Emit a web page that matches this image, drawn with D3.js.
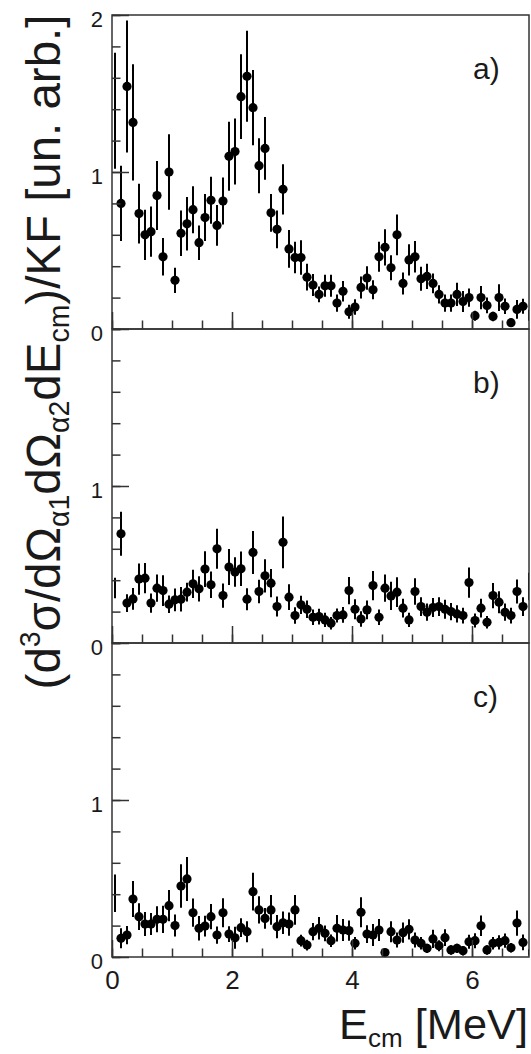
<!DOCTYPE html>
<html>
<head>
<meta charset="utf-8">
<script src="https://cdn.jsdelivr.net/npm/d3@7"></script>
<style>
  body { margin: 0; background: #fff; }
  svg { display: block; }
</style>
</head>
<body>
<div id="chart"></div>
<script>
// Energy bins (MeV), bin centres
const energy = [
  0.05, 0.15, 0.25, 0.35, 0.45, 0.55, 0.65, 0.75, 0.85, 0.95,
  1.05, 1.15, 1.25, 1.35, 1.45, 1.55, 1.65, 1.75, 1.85, 1.95,
  2.05, 2.15, 2.25, 2.35, 2.45, 2.55, 2.65, 2.75, 2.85, 2.95,
  3.05, 3.15, 3.25, 3.35, 3.45, 3.55, 3.65, 3.75, 3.85, 3.95,
  4.05, 4.15, 4.25, 4.35, 4.45, 4.55, 4.65, 4.75, 4.85, 4.95,
  5.05, 5.15, 5.25, 5.35, 5.45, 5.55, 5.65, 5.75, 5.85, 5.95,
  6.05, 6.15, 6.25, 6.35, 6.45, 6.55, 6.65, 6.75, 6.85, 6.95
];

// panel a)
const aVal = [
  1.39, 0.80, 1.545, 1.316, 0.735, 0.60, 0.62, 0.85, 0.46, 1.00,
  0.31, 0.61, 0.67, 0.76, 0.55, 0.71, 0.82, 0.66, 0.815, 1.10,
  1.13, 1.48, 1.61, 1.41, 1.04, 1.15, 0.74, 0.635, 0.89, 0.51,
  0.455, 0.455, 0.33, 0.28, 0.22, 0.275, 0.275, 0.165, 0.24, 0.11,
  0.14, 0.265, 0.325, 0.25, 0.46, 0.52, 0.39, 0.60, 0.29, 0.44,
  0.46, 0.32, 0.335, 0.29, 0.22, 0.165, 0.165, 0.22, 0.175, 0.20,
  0.085, 0.20, 0.15, 0.08, 0.20, 0.145, 0.04, 0.125, 0.145, 0.088
];
const aErr = [
  0.37, 0.24, 0.42, 0.37, 0.19, 0.16, 0.16, 0.22, 0.12, 0.24,
  0.08, 0.145, 0.17, 0.15, 0.11, 0.15, 0.15, 0.13, 0.15, 0.22,
  0.21, 0.27, 0.29, 0.24, 0.175, 0.2, 0.12, 0.12, 0.16, 0.12,
  0.10, 0.11, 0.085, 0.07, 0.05, 0.07, 0.07, 0.055, 0.065, 0.045,
  0.05, 0.07, 0.075, 0.06, 0.095, 0.115, 0.08, 0.13, 0.07, 0.10,
  0.10, 0.077, 0.08, 0.063, 0.058, 0.055, 0.055, 0.074, 0.067, 0.058,
  0.032, 0.074, 0.05, 0.03, 0.085, 0.05, 0.025, 0.06, 0.048, 0.035
];

// panel b)
const bVal = [
  0.35, 0.696, 0.254, 0.281, 0.407, 0.413, 0.254, 0.349, 0.334, 0.247,
  0.275, 0.279, 0.324, 0.377, 0.345, 0.471, 0.371, 0.60, 0.302, 0.484,
  0.452, 0.473, 0.279, 0.577, 0.328, 0.428, 0.381, 0.232, 0.641, 0.292,
  0.175, 0.243, 0.215, 0.164, 0.168, 0.147, 0.126, 0.175, 0.179, 0.334,
  0.215, 0.153, 0.211, 0.366, 0.164, 0.349, 0.30, 0.324, 0.222, 0.147,
  0.328, 0.232, 0.196, 0.226, 0.232, 0.215, 0.20, 0.185, 0.175, 0.385,
  0.143, 0.222, 0.132, 0.302, 0.26, 0.196, 0.175, 0.328, 0.232, 0.36
];
const bErr = [
  0.065, 0.14, 0.057, 0.07, 0.1, 0.096, 0.062, 0.087, 0.098, 0.056,
  0.072, 0.078, 0.06, 0.09, 0.08, 0.114, 0.085, 0.127, 0.077, 0.114,
  0.094, 0.11, 0.07, 0.137, 0.075, 0.106, 0.09, 0.064, 0.165, 0.082,
  0.052, 0.058, 0.055, 0.05, 0.05, 0.045, 0.04, 0.045, 0.05, 0.087,
  0.064, 0.05, 0.06, 0.093, 0.05, 0.087, 0.09, 0.094, 0.06, 0.045,
  0.085, 0.06, 0.055, 0.06, 0.06, 0.06, 0.055, 0.055, 0.05, 0.096,
  0.045, 0.06, 0.04, 0.08, 0.07, 0.055, 0.05, 0.077, 0.06, 0.088
];

// panel c)
const cVal = [
  0.406, 0.119, 0.14, 0.369, 0.257, 0.21, 0.21, 0.24, 0.24, 0.327,
  0.20, 0.452, 0.497, 0.282, 0.183, 0.197, 0.257, 0.14, 0.282, 0.146,
  0.122, 0.187, 0.161, 0.416, 0.30, 0.246, 0.30, 0.193, 0.218, 0.21,
  0.30, 0.104, 0.076, 0.161, 0.183, 0.151, 0.104, 0.183, 0.172, 0.168,
  0.087, 0.285, 0.146, 0.14, 0.172, 0.028, 0.161, 0.108, 0.155, 0.176,
  0.108, 0.087, 0.055, 0.115, 0.072, 0.123, 0.045, 0.055, 0.04, 0.097,
  0.104, 0.199, 0.045, 0.087, 0.093, 0.104, 0.059, 0.216, 0.093, 0.03
];
const cErr = [
  0.12, 0.064, 0.058, 0.115, 0.085, 0.076, 0.07, 0.083, 0.087, 0.1,
  0.07, 0.138, 0.14, 0.09, 0.078, 0.066, 0.08, 0.055, 0.092, 0.05,
  0.07, 0.06, 0.067, 0.12, 0.087, 0.066, 0.095, 0.074, 0.072, 0.074,
  0.095, 0.037, 0.034, 0.055, 0.072, 0.05, 0.04, 0.085, 0.07, 0.064,
  0.04, 0.095, 0.057, 0.07, 0.07, 0.025, 0.067, 0.048, 0.064, 0.064,
  0.048, 0.04, 0.03, 0.058, 0.035, 0.053, 0.03, 0.03, 0.03, 0.045,
  0.048, 0.066, 0.03, 0.04, 0.045, 0.045, 0.03, 0.08, 0.05, 0.02
];

const panelLabels = ['a)', 'b)', 'c)'];
const yDomain = [0, 2];
const xDomain = [0, 6.95];

// Layout
let svgwidth = 531;
let svgheight = 1054;
let frameLeft = 112;
let frameRight = 529;
let frameTop = 15;
let panelH = 314;
let markerR = 4.6;
let ink = '#1a1a1a';
let font = "'Liberation Sans', Arial, sans-serif";

let svg = d3.select('#chart')
  .append('svg')
  .attr('width', svgwidth)
  .attr('height', svgheight)
  .style('font-family', font);

let x = d3.scaleLinear().domain(xDomain).range([frameLeft, frameRight]);

let panels = [
  { val: aVal, err: aErr, label: panelLabels[0], yLabels: [0, 1, 2] },
  { val: bVal, err: bErr, label: panelLabels[1], yLabels: [0, 1] },
  { val: cVal, err: cErr, label: panelLabels[2], yLabels: [0, 1] }
];

panels.forEach(function (p, i) {
  let y0 = frameTop + i * panelH;
  let y = d3.scaleLinear().domain(yDomain).range([y0 + panelH, y0]);
  let last = i === panels.length - 1;

  let g = svg.append('g').attr('class', 'panel');

  // clip for error bars
  svg.append('clipPath')
    .attr('id', 'clip' + i)
    .append('rect')
    .attr('x', frameLeft)
    .attr('y', y0)
    .attr('width', frameRight - frameLeft)
    .attr('height', panelH);

  let rows = energy.map((e, k) => ({ e: e, v: p.val[k], s: p.err[k] }));

  // error bars
  g.append('g')
    .attr('clip-path', `url(#clip${i})`)
    .selectAll('line')
    .data(rows)
    .join('line')
    .attr('x1', (d) => x(d.e))
    .attr('x2', (d) => x(d.e))
    .attr('y1', (d) => y(d.v - d.s))
    .attr('y2', (d) => y(d.v + d.s))
    .attr('stroke', '#000')
    .attr('stroke-width', 2);

  // markers (skipped when they would poke out of the frame)
  g.append('g')
    .selectAll('circle')
    .data(rows.filter((d) => x(d.e) - frameLeft >= markerR && frameRight - x(d.e) >= markerR))
    .join('circle')
    .attr('cx', (d) => x(d.e))
    .attr('cy', (d) => y(d.v))
    .attr('r', markerR)
    .attr('fill', '#000');

  // y minor ticks
  let yMinor = g.append('g')
    .attr('transform', `translate(${frameLeft},0)`)
    .call(d3.axisLeft(y).tickValues(y.ticks(10)).tickSize(-8.5).tickFormat(''));
  yMinor.select('.domain').remove();

  // y major ticks + labels
  let yMajor = g.append('g')
    .attr('transform', `translate(${frameLeft},0)`)
    .call(d3.axisLeft(y).tickValues(p.yLabels).tickSize(-17).tickPadding(9).tickFormat(d3.format('d')));
  yMajor.select('.domain').remove();
  yMajor.selectAll('text')
    .attr('dy', '0.5em')
    .style('font-size', '22px')
    .style('font-family', font)
    .attr('fill', ink);

  // x minor ticks
  let xMinor = g.append('g')
    .attr('transform', `translate(0,${y0 + panelH})`)
    .call(d3.axisBottom(x).tickValues(x.ticks(14)).tickSize(-8.5).tickFormat(''));
  xMinor.select('.domain').remove();

  // x major ticks (labels only on the bottom panel)
  let xMajor = g.append('g')
    .attr('transform', `translate(0,${y0 + panelH})`)
    .call(d3.axisBottom(x).ticks(4).tickSize(-17).tickPadding(14)
      .tickFormat(last ? d3.format('d') : ''));
  xMajor.select('.domain').remove();
  xMajor.selectAll('text')
    .style('font-size', '26px')
    .style('font-family', font)
    .attr('fill', ink);

  g.selectAll('.tick line').attr('stroke', '#333').attr('stroke-width', 1.5);

  // frame
  g.append('rect')
    .attr('x', frameLeft)
    .attr('y', y0)
    .attr('width', frameRight - frameLeft)
    .attr('height', panelH)
    .attr('fill', 'none')
    .attr('stroke', '#333')
    .attr('stroke-width', 1.5);

  // panel label
  g.append('text')
    .text(p.label)
    .attr('x', 473)
    .attr('y', y0 + 64)
    .attr('font-size', 30)
    .attr('fill', ink);
});

// rich text helper: parts are [string, shift] with shift +1 sup, -1 sub
function richText(sel, parts, fs) {
  let cur = 0;
  parts.forEach(function (pt) {
    let shift = pt[1] === 1 ? -0.42 * fs : pt[1] === -1 ? 0.18 * fs : 0;
    sel.append('tspan')
      .text(pt[0])
      .attr('dy', shift - cur)
      .attr('font-size', pt[1] === 0 ? fs : fs * 0.6);
    cur = shift;
  });
}

// Y axis title, squeezed to fit the height like the original
let yTitleG = svg.append('g').attr('transform', 'translate(60,352) rotate(-90)');
let yTitle = yTitleG.append('text')
  .attr('text-anchor', 'middle')
  .attr('fill', ink);
richText(yTitle, [
  ['(d', 0], ['3', 1], ['σ/dΩ', 0], ['α1', -1], ['dΩ', 0], ['α2', -1],
  ['dE', 0], ['cm', -1], [')/KF [un. arb.]', 0]
], 48);
let yLen = yTitle.node().getComputedTextLength();
yTitle.attr('transform', `scale(${675 / yLen},1)`);

// X axis title
let xTitleG = svg.append('g').attr('transform', 'translate(528,1039)');
let xTitle = xTitleG.append('text')
  .attr('text-anchor', 'end')
  .attr('fill', ink);
richText(xTitle, [['E', 0], ['cm', -1], [' [MeV]', 0]], 42);
let xLen = xTitle.node().getComputedTextLength();
xTitle.attr('transform', `scale(${189 / xLen},1)`);
</script>
</body>
</html>
